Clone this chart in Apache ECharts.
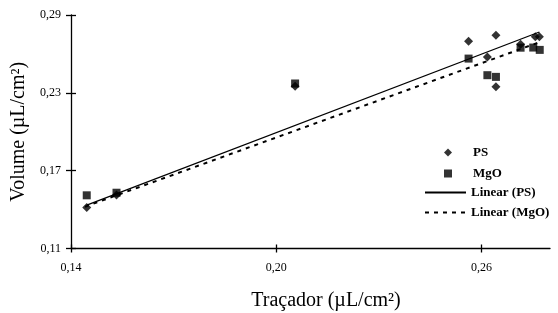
<!DOCTYPE html>
<html>
<head>
<meta charset="utf-8">
<script src="https://cdn.jsdelivr.net/npm/echarts@6/dist/echarts.min.js"></script>
<style>
  html, body { margin: 0; padding: 0; background: #fff; }
  #chart { width: 558px; height: 313px; }
</style>
</head>
<body>
<div id="chart"></div>
<script>
// 数据
const psX = [0.1446, 0.1533, 0.2055, 0.2562, 0.2617, 0.2642, 0.2642, 0.2714, 0.2757, 0.2769];
const psY = [0.1417, 0.1512, 0.2351, 0.2698, 0.2577, 0.2744, 0.2346, 0.2675, 0.2732, 0.2732];
const mgoX = [0.1446, 0.1533, 0.2055, 0.2562, 0.2617, 0.2642, 0.2714, 0.2751, 0.2770];
const mgoY = [0.1510, 0.1530, 0.2372, 0.2564, 0.2436, 0.2423, 0.2648, 0.2649, 0.2631];

// 趋势线端点
const fitPsX = [0.1446, 0.2769];
const fitPsY = [0.1435, 0.2769];
const fitMgoX = [0.1441, 0.2769];
const fitMgoY = [0.1422, 0.2690];

// 刻度
const xTicks = [0.14, 0.20, 0.26];
const yTicks = [0.11, 0.17, 0.23, 0.29];

const serif = '"Liberation Serif", "Times New Roman", serif';

function pairs(xs, ys) {
  return xs.map((x, i) => [x, ys[i]]);
}

function fmt(v) {
  return v.toFixed(2).replace('.', ',');
}

const chart = echarts.init(document.getElementById('chart'));

const legendText = { fontFamily: serif, fontSize: 13, fontWeight: 'bold', color: '#000' };

const option = {
  animation: false,
  backgroundColor: '#fff',
  grid: { left: 71, right: 8, top: 15, bottom: 64.5, outerBoundsMode: 'none', containLabel: false },
  legend: [
    {
      data: ['PS', 'MgO'],
      orient: 'vertical',
      left: 444,
      top: 146,
      padding: 0,
      itemWidth: 8,
      itemHeight: 8,
      itemGap: 8,
      textStyle: Object.assign({ padding: [0, 0, 0, 16] }, legendText)
    },
    {
      data: ['Linear (PS)', 'Linear (MgO)'],
      orient: 'vertical',
      left: 424,
      top: 186,
      padding: 0,
      itemWidth: 41,
      itemHeight: 10,
      itemGap: 7,
      itemStyle: { opacity: 0 },
      textStyle: legendText
    }
  ],
  xAxis: [
    {
      type: 'value',
      min: 0.14,
      max: 0.28,
      name: 'Traçador (µL/cm²)',
      nameLocation: 'middle',
      nameGap: 42,
      nameTextStyle: { fontFamily: serif, fontSize: 20, color: '#000', padding: [0, 0, 0, 31] },
      axisLine: { show: true, lineStyle: { color: '#000', width: 1.3 } },
      axisTick: { show: true, length: 4, customValues: xTicks, lineStyle: { color: '#000', width: 1.3 } },
      axisLabel: { customValues: xTicks, formatter: fmt, fontFamily: serif, fontSize: 12, color: '#000', margin: 13 },
      splitLine: { show: false }
    },
    {
      type: 'value',
      position: 'bottom',
      min: 0.14,
      max: 0.28,
      axisLine: { show: false },
      axisTick: { show: true, inside: true, length: 4, customValues: xTicks, lineStyle: { color: '#000', width: 1.3 } },
      axisLabel: { show: false },
      splitLine: { show: false }
    }
  ],
  yAxis: [
    {
      type: 'value',
      min: 0.11,
      max: 0.29,
      name: 'Volume (µL/cm²)',
      nameLocation: 'middle',
      nameGap: 29,
      nameTextStyle: { fontFamily: serif, fontSize: 20, color: '#000' },
      axisLine: { show: true, lineStyle: { color: '#000', width: 1.3 } },
      axisTick: { show: true, length: 5, customValues: yTicks, lineStyle: { color: '#000', width: 1.3 } },
      axisLabel: { customValues: yTicks, formatter: fmt, fontFamily: serif, fontSize: 12, color: '#000', margin: 10 },
      splitLine: { show: false }
    },
    {
      type: 'value',
      position: 'left',
      min: 0.11,
      max: 0.29,
      axisLine: { show: false },
      axisTick: { show: true, inside: true, length: 5, customValues: yTicks, lineStyle: { color: '#000', width: 1.3 } },
      axisLabel: { show: false },
      splitLine: { show: false }
    }
  ],
  series: [
    {
      name: 'PS',
      type: 'scatter',
      symbol: 'diamond',
      symbolSize: 9,
      itemStyle: { color: '#000' },
      z: 5,
      data: pairs(psX, psY)
    },
    {
      name: 'MgO',
      type: 'scatter',
      symbol: 'rect',
      symbolSize: 8,
      itemStyle: { color: '#000' },
      z: 6,
      data: pairs(mgoX, mgoY)
    },
    {
      name: 'Linear (PS)',
      type: 'line',
      symbol: 'none',
      color: '#000',
      lineStyle: { color: '#000', width: 1.3 },
      z: 2,
      data: pairs(fitPsX, fitPsY)
    },
    {
      name: 'Linear (MgO)',
      type: 'line',
      symbol: 'none',
      color: '#000',
      lineStyle: { color: '#000', width: 2, type: [4, 5] },
      z: 2,
      data: pairs(fitMgoX, fitMgoY)
    }
  ]
};

chart.setOption(option);
</script>
</body>
</html>
